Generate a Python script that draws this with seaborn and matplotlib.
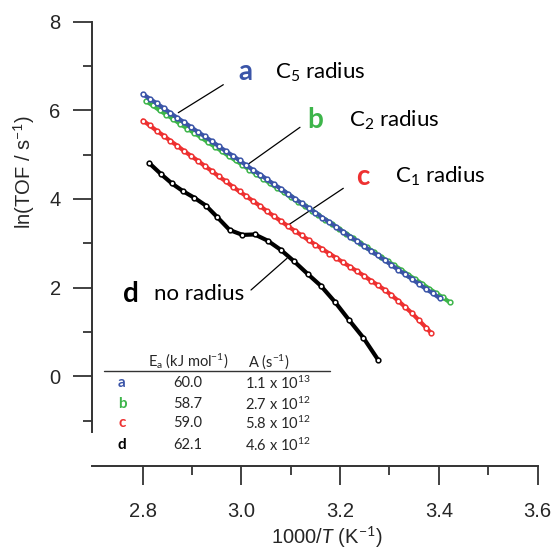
import matplotlib
matplotlib.use("Agg")
import matplotlib.pyplot as plt
import seaborn as sns
import pandas as pd

# ---------------- data ----------------
x_a = [2.800, 2.814, 2.828, 2.842, 2.856, 2.870, 2.884, 2.898, 2.912, 2.926, 2.940,
       2.954, 2.968, 2.982, 2.996, 3.010, 3.024, 3.038, 3.052, 3.066, 3.080, 3.094,
       3.108, 3.122, 3.136, 3.150, 3.164, 3.178, 3.192, 3.206, 3.220, 3.234, 3.248,
       3.262, 3.276, 3.290, 3.304, 3.318, 3.332, 3.346, 3.360, 3.374, 3.388, 3.402]
y_a = [6.37, 6.26, 6.16, 6.05, 5.94, 5.83, 5.73, 5.62, 5.51, 5.41, 5.30,
       5.19, 5.08, 4.98, 4.87, 4.76, 4.65, 4.55, 4.44, 4.33, 4.23, 4.12,
       4.01, 3.90, 3.80, 3.69, 3.58, 3.48, 3.37, 3.26, 3.15, 3.05, 2.94,
       2.83, 2.73, 2.62, 2.51, 2.40, 2.30, 2.19, 2.08, 1.97, 1.87, 1.76]

x_b = [2.806, 2.820, 2.834, 2.848, 2.862, 2.876, 2.890, 2.904, 2.918, 2.932, 2.946,
       2.960, 2.974, 2.988, 3.002, 3.016, 3.030, 3.044, 3.058, 3.072, 3.086, 3.100,
       3.114, 3.128, 3.142, 3.156, 3.170, 3.184, 3.198, 3.212, 3.226, 3.240, 3.254,
       3.268, 3.282, 3.296, 3.310, 3.324, 3.338, 3.352, 3.366, 3.380, 3.394, 3.408, 3.422]
y_b = [6.21, 6.11, 6.00, 5.90, 5.80, 5.69, 5.59, 5.49, 5.39, 5.28, 5.18,
       5.08, 4.97, 4.87, 4.77, 4.66, 4.56, 4.46, 4.35, 4.25, 4.15, 4.04,
       3.94, 3.84, 3.74, 3.63, 3.53, 3.43, 3.32, 3.22, 3.12, 3.01, 2.91,
       2.81, 2.70, 2.60, 2.50, 2.40, 2.29, 2.19, 2.09, 1.98, 1.88, 1.78, 1.67]

x_c = [2.800, 2.814, 2.828, 2.842, 2.856, 2.870, 2.884, 2.898, 2.912, 2.926, 2.940,
       2.954, 2.968, 2.982, 2.996, 3.010, 3.024, 3.038, 3.052, 3.066, 3.080, 3.094,
       3.108, 3.122, 3.136, 3.150, 3.164, 3.178, 3.192, 3.206, 3.220, 3.234, 3.248,
       3.262, 3.276, 3.290, 3.304, 3.318, 3.332, 3.346, 3.360, 3.374, 3.385]
y_c = [5.77, 5.66, 5.54, 5.43, 5.31, 5.20, 5.08, 4.97, 4.86, 4.74, 4.63,
       4.51, 4.40, 4.28, 4.17, 4.06, 3.95, 3.84, 3.72, 3.61, 3.50, 3.39,
       3.28, 3.18, 3.07, 2.97, 2.87, 2.77, 2.67, 2.57, 2.47, 2.37, 2.27,
       2.16, 2.06, 1.95, 1.83, 1.70, 1.56, 1.42, 1.26, 1.10, 0.97]

x_d = [2.813, 2.837, 2.859, 2.881, 2.904, 2.928, 2.951, 2.976, 3.002, 3.027,
       3.053, 3.080, 3.107, 3.134, 3.161, 3.190, 3.218, 3.247, 3.277]
y_d = [4.81, 4.56, 4.35, 4.18, 4.03, 3.85, 3.59, 3.30, 3.19, 3.20,
       3.06, 2.85, 2.59, 2.31, 2.04, 1.67, 1.27, 0.87, 0.37]

series_keys = ["a", "b", "c", "d"]
series_names = ["C$_5$ radius", "C$_2$ radius", "C$_1$ radius", "no radius"]
ea_values = ["60.0", "58.7", "59.0", "62.1"]
a_values = ["1.1 x 10$^{13}$", "2.7 x 10$^{12}$", "5.8 x 10$^{12}$", "4.6 x 10$^{12}$"]
colors = {"a": "#3b55a8", "b": "#3db54a", "c": "#ee3131", "d": "#000000"}

x_ticks = [2.8, 3.0, 3.2, 3.4, 3.6]
y_ticks = [0, 2, 4, 6, 8]

# ---------------- style ----------------
sns.set_style("ticks")
plt.rcParams["font.family"] = ["Liberation Sans", "DejaVu Sans"]
plt.rcParams["mathtext.fontset"] = "custom"
plt.rcParams["mathtext.rm"] = "Lato"
plt.rcParams["mathtext.it"] = "Lato:italic"
plt.rcParams["mathtext.bf"] = "Lato:bold"

W, H = 553, 552
fig = plt.figure(figsize=(W / 100, H / 100), dpi=100)
ax_l, ax_r, ax_t, ax_b = 92, 537.5, 21.7, 431.7
ax = fig.add_axes([ax_l / W, 1 - ax_b / H, (ax_r - ax_l) / W, (ax_b - ax_t) / H])

data = {"a": (x_a, y_a), "b": (x_b, y_b), "c": (x_c, y_c), "d": (x_d, y_d)}
for key in ["b", "a", "c", "d"]:
    xs, ys = data[key]
    df = pd.DataFrame({"x": xs, "y": ys})
    sns.lineplot(data=df, x="x", y="y", ax=ax, sort=False, color=colors[key],
                 linewidth=3.0, marker="o", markersize=3.4,
                 markerfacecolor="white", markeredgecolor=colors[key],
                 markeredgewidth=1.1)

ax.set_xlim(2.697, 3.6)
ax.set_ylim(-1.25, 8)
ax.set_xticks(x_ticks)
ax.set_xticklabels([f"{v:.1f}" for v in x_ticks])
ax.set_xticks([2.9, 3.1, 3.3, 3.5], minor=True)
ax.set_yticks(y_ticks)
ax.set_yticklabels([str(v) for v in y_ticks])
ax.set_yticks([-1, 1, 3, 5, 7], minor=True)

for s in ["top", "right"]:
    ax.spines[s].set_visible(False)
for s in ["left", "bottom"]:
    ax.spines[s].set_linewidth(1.4)
    ax.spines[s].set_color("#333333")
ax.spines["bottom"].set_position(("outward", 25))

ax.tick_params(axis="both", which="major", direction="out", length=13.5,
               width=1.3, color="#333333", labelsize=14.5, pad=9)
ax.tick_params(axis="both", which="minor", direction="out", length=6.5,
               width=1.3, color="#333333")
ax.tick_params(axis="x", which="major", pad=12)

ax.set_xlabel("1000/$\\mathit{T}$ (K$^{-1}$)", fontsize=14.5)
ax.set_ylabel("ln(TOF / s$^{-1}$)", fontsize=14.5)
ax.xaxis.set_label_coords(0.528, -0.228)
ax.yaxis.set_label_coords(-0.123, 0.634)

# ---------------- annotations ----------------
def fx(px):
    return (px - ax_l) / (ax_r - ax_l)

def fy(py):
    return (ax_b - py) / (ax_b - ax_t)

tfont = ["Lato", "DejaVu Sans"]
letter_pos = {"a": (245, 72), "b": (315, 120), "c": (362.5, 176.7), "d": (131, 294)}
name_pos = {"a": (275, 72), "b": (349, 120), "c": (395, 176.7), "d": (153.7, 294)}
for key, name in zip(series_keys, series_names):
    lx, ly = letter_pos[key]
    ax.text(fx(lx), fy(ly), key, transform=ax.transAxes, ha="center", va="center",
            fontsize=20, fontweight="bold", color=colors[key], family=tfont)
    nx, ny = name_pos[key]
    ax.text(fx(nx), fy(ny), name, transform=ax.transAxes, ha="left", va="center",
            fontsize=16, color="black", family=tfont)

leaders = {"a": ((223.3, 84.7), (178.3, 112.7)),
           "b": ((300, 127.3), (247, 165)),
           "c": ((343.3, 188.3), (288.3, 225)),
           "d": ((251, 290), (287, 258.3))}
for key, ((x0, y0), (x1, y1)) in leaders.items():
    ax.plot([fx(x0), fx(x1)], [fy(y0), fy(y1)], transform=ax.transAxes,
            color="black", linewidth=0.9, zorder=1)

# ---------------- table ----------------
ax.text(fx(188), fy(361.7), "E$_\\mathrm{a}$ (kJ mol$^{-1}$)", transform=ax.transAxes,
        ha="center", va="center", fontsize=10.5, family=tfont)
ax.text(fx(269), fy(361.7), "A (s$^{-1}$)", transform=ax.transAxes,
        ha="center", va="center", fontsize=10.5, family=tfont)
ax.plot([fx(104), fx(330)], [fy(370.7), fy(370.7)], transform=ax.transAxes,
        color="#333333", linewidth=1.0, clip_on=False)
row_y = [383.3, 404, 423.3, 445]
for key, ea, aval, ry in zip(series_keys, ea_values, a_values, row_y):
    ax.text(fx(122), fy(ry), key, transform=ax.transAxes, ha="center", va="center",
            fontsize=11, fontweight="bold", color=colors[key], family=tfont, clip_on=False)
    ax.text(fx(188), fy(ry), ea, transform=ax.transAxes, ha="center", va="center",
            fontsize=10.5, family=tfont, clip_on=False)
    ax.text(fx(245), fy(ry), aval, transform=ax.transAxes, ha="left", va="center",
            fontsize=10.5, family=tfont, clip_on=False)

fig.savefig("out.png", dpi=100)
